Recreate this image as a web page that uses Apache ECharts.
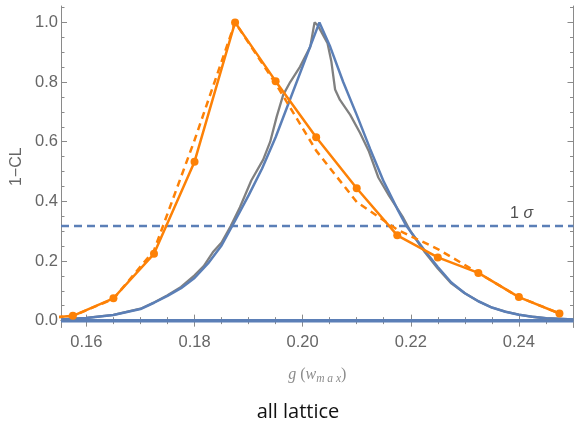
<!DOCTYPE html>
<html>
<head>
<meta charset="utf-8">
<script src="https://cdn.jsdelivr.net/npm/echarts@6/dist/echarts.min.js"></script>
<style>
  html, body { margin: 0; padding: 0; background: #fff; }
  #chart { width: 577px; height: 423px; }
</style>
</head>
<body>
<div id="chart"></div>
<script>
// Orange profile: sampled points (solid, with markers) and the dashed variant
const orangeX      = [0.15, 0.1575, 0.165, 0.1725, 0.18, 0.1875, 0.195, 0.2025, 0.21, 0.2175, 0.225, 0.2325, 0.24, 0.2475];
const orangeSolid  = [0.005, 0.016, 0.075, 0.224, 0.533, 1.0, 0.803, 0.615, 0.444, 0.286, 0.212, 0.160, 0.079, 0.024];
const orangeDashed = [0.005, 0.016, 0.073, 0.235, 0.605, 1.0, 0.795, 0.570, 0.398, 0.305, 0.240, 0.160, 0.079, 0.024];

// Smooth blue profile
const blueX = [0.1553, 0.16, 0.165, 0.17, 0.1725, 0.175, 0.1775, 0.18, 0.1825, 0.185, 0.1875, 0.19, 0.1925, 0.195,
               0.2031, 0.2051, 0.2075, 0.21, 0.2125, 0.215, 0.2175, 0.2192, 0.2225, 0.225, 0.2275, 0.23, 0.2325,
               0.235, 0.2375, 0.24, 0.2425, 0.245, 0.2501];
const blueY = [0.004, 0.009, 0.019, 0.039, 0.060, 0.083, 0.109, 0.143, 0.192, 0.252, 0.335, 0.42, 0.51, 0.615,
               1.0, 0.918, 0.80, 0.69, 0.575, 0.466, 0.375, 0.317, 0.237, 0.180, 0.128, 0.092, 0.065,
               0.044, 0.030, 0.020, 0.013, 0.008, 0.004];

// Gray profile (noisier)
const grayX = [0.1553, 0.16, 0.165, 0.17, 0.1725, 0.175, 0.1775, 0.18, 0.1817, 0.1835, 0.185, 0.1867, 0.1884, 0.1905,
               0.1927, 0.194, 0.1952, 0.1964, 0.1977, 0.1995, 0.2014, 0.2022, 0.2028, 0.2046, 0.2053, 0.2060, 0.2069,
               0.2088, 0.2106, 0.2122, 0.2140, 0.2160, 0.2186, 0.220, 0.2225, 0.225, 0.2275, 0.23, 0.2325, 0.235,
               0.2375, 0.24, 0.2425, 0.245, 0.2501];
const grayY = [0.004, 0.009, 0.019, 0.040, 0.061, 0.085, 0.113, 0.152, 0.183, 0.232, 0.262, 0.317, 0.38, 0.47,
               0.54, 0.60, 0.684, 0.757, 0.80, 0.851, 0.918, 1.0, 0.99, 0.93, 0.87, 0.775, 0.740,
               0.69, 0.63, 0.57, 0.48, 0.418, 0.345, 0.298, 0.232, 0.175, 0.125, 0.092, 0.065, 0.044,
               0.030, 0.020, 0.013, 0.008, 0.004];

// Reference levels
const sigmaLevel = 0.3173;
const baseLevel = 0.0;
const sigmaLabelX = 0.2405;

// Axis ranges and ticks
const xRange = [0.1553, 0.2501];
const yRange = [-0.023, 1.055];
const xMajor = [0.16, 0.18, 0.20, 0.22, 0.24];
const xMinor = [0.165, 0.17, 0.175, 0.185, 0.19, 0.195, 0.205, 0.21, 0.215, 0.225, 0.23, 0.235, 0.245, 0.25];
const yMajor = [0.0, 0.2, 0.4, 0.6, 0.8, 1.0];
const yMinor = [0.05, 0.1, 0.15, 0.25, 0.3, 0.35, 0.45, 0.5, 0.55, 0.65, 0.7, 0.75, 0.85, 0.9, 0.95, 1.05];

const zip = (xs, ys) => xs.map((x, i) => [x, ys[i]]);

const frameColor = '#8a8a8a';
const labelColor = '#666666';
const BLUE = '#5b7fb7';
const ORANGE = '#fd8106';
const GRAY = '#808080';

function xAx(pos, values, len, showLine, labels) {
  return {
    type: 'value', position: pos, min: xRange[0], max: xRange[1],
    axisLine: { show: showLine, lineStyle: { color: frameColor, width: 1 } },
    axisTick: { show: true, inside: true, length: len, customValues: values, lineStyle: { color: frameColor } },
    axisLabel: labels ? { show: true, customValues: values, margin: 6, color: labelColor, fontSize: 16.5,
      fontFamily: 'Liberation Sans', formatter: v => v.toFixed(2) } : { show: false },
    splitLine: { show: false }
  };
}
function yAx(pos, values, len, showLine, labels) {
  return {
    type: 'value', position: pos, min: yRange[0], max: yRange[1],
    axisLine: { show: showLine, lineStyle: { color: frameColor, width: 1 } },
    axisTick: { show: true, inside: true, length: len, customValues: values, lineStyle: { color: frameColor } },
    axisLabel: labels ? { show: true, customValues: values, margin: 3, color: labelColor, fontSize: 16.5,
      fontFamily: 'Liberation Sans', formatter: v => v.toFixed(1) } : { show: false },
    splitLine: { show: false }
  };
}

const xAxes = [
  xAx('bottom', xMajor, 6, true, true),
  xAx('bottom', xMinor, 3.5, false, false),
  xAx('top', xMajor, 6, true, false),
  xAx('top', xMinor, 3.5, false, false)
];
xAxes[0].name = '{it|g }{up|(}{it|w}{sub|m a x}{up|)}';
xAxes[0].nameLocation = 'middle';
xAxes[0].nameGap = 38;
xAxes[0].nameTextStyle = {
  color: '#8c8c8c',
  rich: {
    it: { fontFamily: 'Liberation Serif', fontStyle: 'italic', fontSize: 16, color: '#8c8c8c' },
    up: { fontFamily: 'Liberation Serif', fontSize: 16, color: '#8c8c8c' },
    sub: { fontFamily: 'Liberation Serif', fontStyle: 'italic', fontSize: 11.5, color: '#8c8c8c', padding: [7, 0, 0, 0] }
  }
};

const yAxes = [
  yAx('left', yMajor, 6, true, true),
  yAx('left', yMinor, 3.5, false, false),
  yAx('right', yMajor, 6, true, false),
  yAx('right', yMinor, 3.5, false, false)
];
yAxes[0].name = '1\u2212CL';
yAxes[0].nameLocation = 'middle';
yAxes[0].nameGap = 35;
yAxes[0].nameTextStyle = { color: labelColor, fontSize: 16, fontFamily: 'Liberation Sans' };

const chart = echarts.init(document.getElementById('chart'), null, { renderer: 'canvas' });
chart.setOption({
  animation: false,
  backgroundColor: '#ffffff',
  grid: { left: 61, right: 3.5, top: 6, bottom: 95.5, containLabel: false },
  xAxis: xAxes,
  yAxis: yAxes,
  graphic: [{
    type: 'text', x: 298, y: 412,
    style: { text: 'all lattice', font: '20px "Open Sans"', fill: '#111', align: 'center', verticalAlign: 'middle' }
  }],
  series: [
    {
      name: 'sigma', type: 'line', clip: true, symbol: 'none', z: 1,
      data: [[xRange[0], sigmaLevel], [xRange[1], sigmaLevel]],
      lineStyle: { color: BLUE, width: 2.5, type: [8, 5] }
    },
    {
      name: 'sigmaLabel', type: 'scatter', symbolSize: 0, z: 6,
      data: [[sigmaLabelX, sigmaLevel]],
      label: {
        show: true, position: 'top', distance: 4,
        formatter: '{a|1 }{b|\u03c3}',
        rich: {
          a: { fontFamily: 'Liberation Sans', fontSize: 16, color: '#222' },
          b: { fontFamily: 'Liberation Sans', fontStyle: 'italic', fontSize: 16, color: '#222' }
        }
      }
    },
    {
      name: 'base', type: 'line', clip: true, symbol: 'none', z: 2,
      data: [[xRange[0], baseLevel], [xRange[1], baseLevel]],
      lineStyle: { color: BLUE, width: 3.5 }
    },
    {
      name: 'gray', type: 'line', clip: true, symbol: 'none', z: 3,
      data: zip(grayX, grayY),
      lineStyle: { color: GRAY, width: 2.3 }
    },
    {
      name: 'blue', type: 'line', clip: true, symbol: 'none', z: 4,
      data: zip(blueX, blueY),
      lineStyle: { color: BLUE, width: 2.5 }
    },
    {
      name: 'orangeDashed', type: 'line', clip: true, symbol: 'none', z: 5,
      data: zip(orangeX, orangeDashed),
      lineStyle: { color: ORANGE, width: 2.5, type: [7, 5] }
    },
    {
      name: 'orangeSolid', type: 'line', clip: true, symbol: 'circle', symbolSize: 8, showAllSymbol: true, z: 6,
      data: zip(orangeX, orangeSolid),
      lineStyle: { color: ORANGE, width: 2.5 },
      itemStyle: { color: ORANGE }
    }
  ]
});
</script>
</body>
</html>
